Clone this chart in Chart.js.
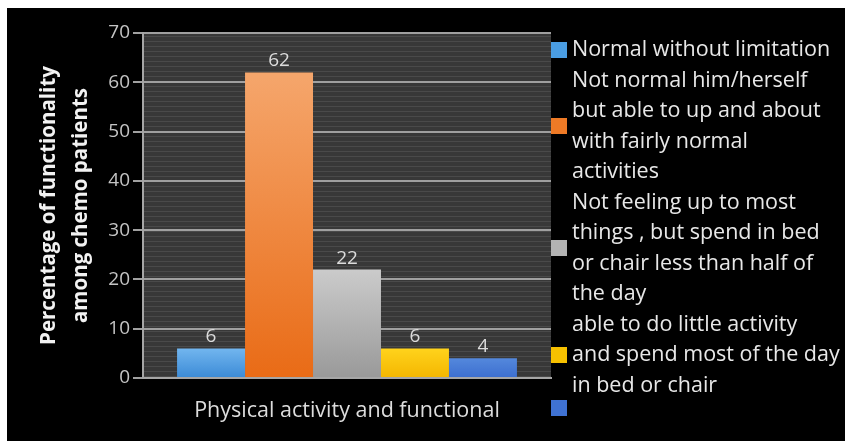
<!DOCTYPE html>
<html>
<head>
<meta charset="utf-8">
<script src="https://cdn.jsdelivr.net/npm/chart.js@4/dist/chart.umd.min.js"></script>
<style>
  html, body { margin: 0; padding: 0; background: #ffffff; }
  #frame { position: absolute; left: 7px; top: 8px; width: 838px; height: 433px; background: #000000; }
  canvas { display: block; }
</style>
</head>
<body>
<div id="frame"><canvas id="chart" width="838" height="433"></canvas></div>
<script>
// Data
const categories = ['Physical activity and functional'];
const seriesValues = [6, 62, 22, 6, 4];
const seriesLegend = [
  ['Normal without limitation'],
  ['Not normal him/herself', 'but able to up and about', 'with fairly normal', 'activities'],
  ['Not feeling up to most', 'things , but spend in bed', 'or chair less than half of', 'the day'],
  ['able to do little activity', 'and spend most of the day', 'in bed or chair'],
  []
];
const yTicks = [0, 10, 20, 30, 40, 50, 60, 70];

// Colours: [top of bar, bottom of bar, legend swatch]
const palette = [
  ['#72b6ef', '#3b8ad6', '#4a9de2'],
  ['#f5a66c', '#e96b16', '#ee7a26'],
  ['#cbcbcb', '#999999', '#b3b3b3'],
  ['#ffd31c', '#f4b600', '#f7c100'],
  ['#5488dc', '#3c6ecf', '#3f72d3']
];

const FONT = '"Open Sans", Lato, sans-serif';

function barGradient(idx) {
  return (ctx) => {
    const chart = ctx.chart;
    const area = chart.chartArea;
    if (!area || ctx.parsed === undefined) return palette[idx][2];
    const yScale = chart.scales.y;
    const top = yScale.getPixelForValue(ctx.parsed.y);
    const g = chart.ctx.createLinearGradient(0, top, 0, area.bottom);
    g.addColorStop(0, palette[idx][0]);
    g.addColorStop(1, palette[idx][1]);
    return g;
  };
}

// Striped dark plot background
const plotBackground = {
  id: 'plotBackground',
  beforeDraw(chart) {
    const { ctx, chartArea: a } = chart;
    ctx.save();
    ctx.fillStyle = '#383838';
    ctx.fillRect(a.left, a.top, a.right - a.left, a.bottom - a.top);
    ctx.strokeStyle = '#4a4a4a';
    ctx.lineWidth = 1;
    for (let y = a.top + 3; y < a.bottom; y += 5) {
      ctx.beginPath();
      ctx.moveTo(a.left, Math.round(y) + 0.5);
      ctx.lineTo(a.right, Math.round(y) + 0.5);
      ctx.stroke();
    }
    ctx.restore();
  }
};

// Value above each bar
const valueLabels = {
  id: 'valueLabels',
  afterDatasetsDraw(chart) {
    const ctx = chart.ctx;
    ctx.save();
    ctx.font = '19px ' + FONT;
    ctx.fillStyle = '#dcdcdc';
    ctx.textAlign = 'center';
    ctx.textBaseline = 'alphabetic';
    chart.data.datasets.forEach((ds, i) => {
      chart.getDatasetMeta(i).data.forEach((bar, j) => {
        ctx.fillText(String(ds.data[j]), bar.x, bar.y - 6);
      });
    });
    ctx.restore();
  }
};

// Legend on the right with wrapped labels
const sideLegend = {
  id: 'sideLegend',
  afterDraw(chart) {
    const ctx = chart.ctx;
    const lineGap = 30.5;
    const boxX = 544, textX = 565, box = 16;
    let y = 42;
    ctx.save();
    ctx.font = '21.5px ' + FONT;
    ctx.textBaseline = 'middle';
    ctx.textAlign = 'left';
    chart.data.datasets.forEach((ds, i) => {
      const lines = seriesLegend[i];
      let centre;
      if (lines.length === 0) {
        centre = y - lineGap + 22;
      } else {
        centre = y + (lines.length - 1) * lineGap / 2;
        ctx.fillStyle = '#e8e8e8';
        lines.forEach((t, k) => ctx.fillText(t, textX, y + k * lineGap));
        y += lines.length * lineGap;
      }
      ctx.fillStyle = palette[i][2];
      ctx.fillRect(boxX, Math.round(centre - box / 2), box, box);
    });
    ctx.restore();
  }
};

const datasets = seriesValues.map((v, i) => ({
  label: seriesLegend[i].join(' '),
  data: [v],
  backgroundColor: barGradient(i),
  borderWidth: 0
}));

new Chart(document.getElementById('chart'), {
  type: 'bar',
  data: { labels: categories, datasets },
  options: {
    responsive: false,
    animation: false,
    events: [],
    layout: { padding: { left: 0, right: 294, top: 25, bottom: 0 } },
    datasets: { bar: { categoryPercentage: 0.833, barPercentage: 1 } },
    plugins: { legend: { display: false }, tooltip: { enabled: false } },
    scales: {
      x: {
        grid: { display: false },
        border: { display: true, color: '#a6a6a6', width: 2 },
        ticks: { color: '#dddddd', font: { family: FONT, size: 21.5 }, padding: 12 },
        afterFit: (s) => { s.height = 63; }
      },
      y: {
        min: 0,
        max: 70,
        afterBuildTicks: (s) => { s.ticks = yTicks.map(v => ({ value: v })); },
        grid: { color: '#a0a0a0', lineWidth: 2, tickLength: 10, drawTicks: true },
        border: { display: true, color: '#a6a6a6', width: 2 },
        ticks: { color: '#c4c4c4', font: { family: FONT, size: 19 }, padding: 3 },
        title: {
          display: true,
          text: ['Percentage of functionality', 'among chemo patients'],
          color: '#f2f2f2',
          font: { family: FONT, size: 20.5, weight: 'bold', lineHeight: 1.55 },
          padding: { top: 26, bottom: 0 }
        },
        afterFit: (s) => { s.width = 136; }
      }
    }
  },
  plugins: [plotBackground, valueLabels, sideLegend]
});
</script>
</body>
</html>
